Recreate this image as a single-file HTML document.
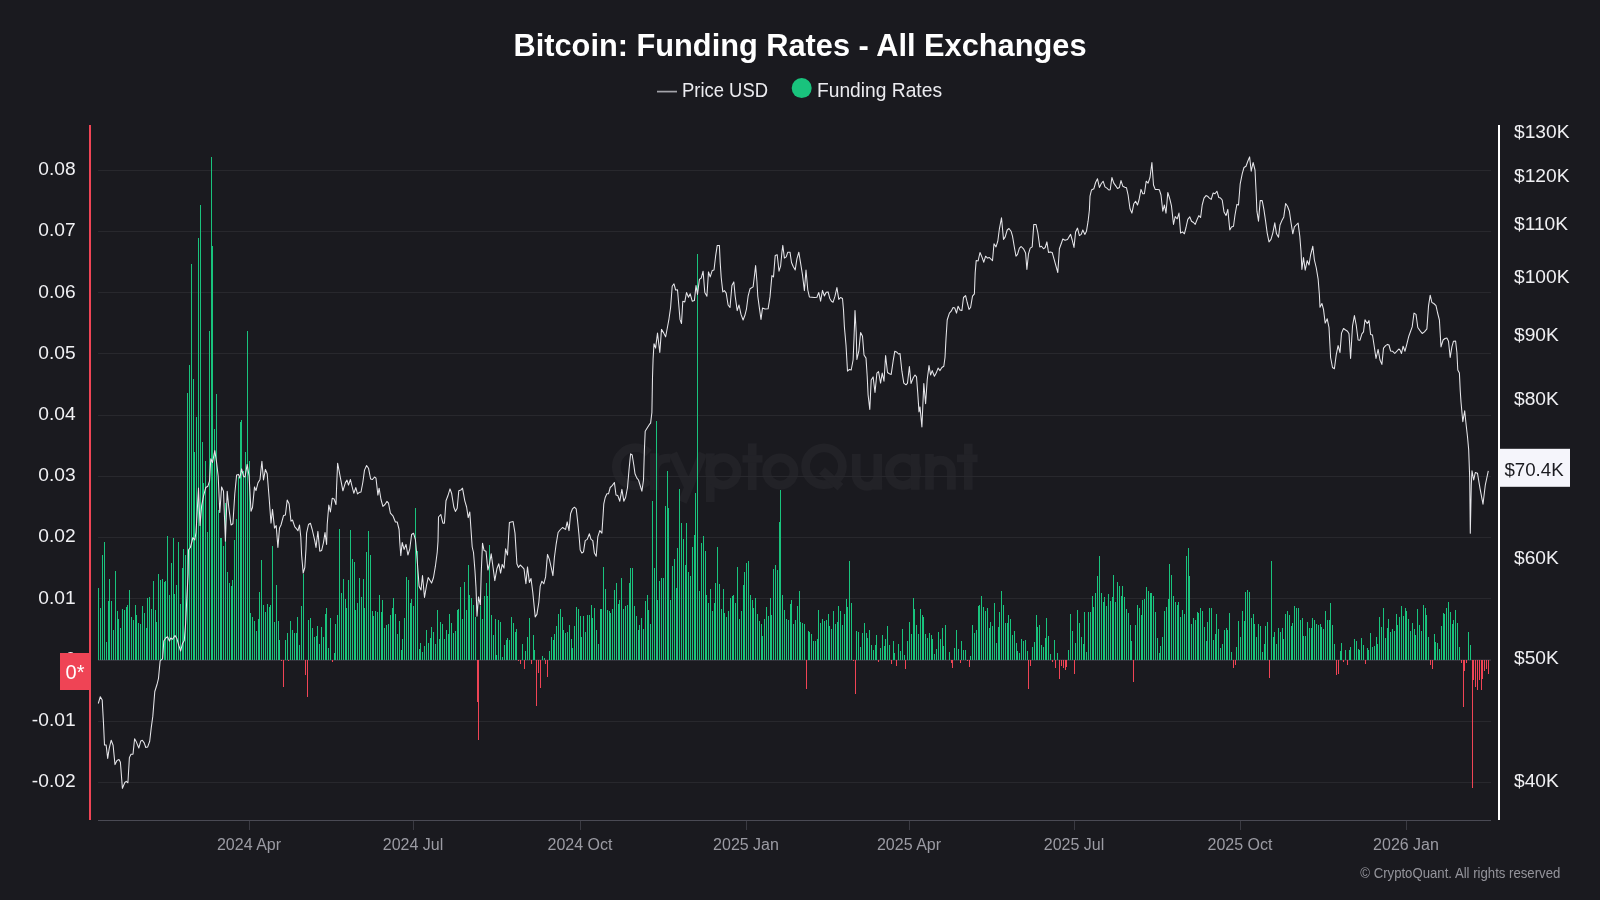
<!DOCTYPE html>
<html><head><meta charset="utf-8"><title>Bitcoin: Funding Rates - All Exchanges</title>
<style>
html,body{margin:0;padding:0;background:#1a1a1f;}
body{width:1600px;height:900px;overflow:hidden;font-family:"Liberation Sans",sans-serif;}
svg{display:block;will-change:transform}
text{font-family:"Liberation Sans",sans-serif;}
.yl{font-size:19.2px;fill:#f0f0f3;text-anchor:end}
.yr{font-size:19.2px;fill:#f0f0f3;text-anchor:start}
.xl{font-size:16px;fill:#9b9ba3;text-anchor:middle}
.g{stroke:#28282d;stroke-width:1}
</style></head><body>
<svg width="1600" height="900" viewBox="0 0 1600 900">
<rect width="1600" height="900" fill="#1a1a1f"/>
<text x="800" y="56" text-anchor="middle" font-size="31" font-weight="bold" fill="#ffffff" textLength="573" lengthAdjust="spacingAndGlyphs">Bitcoin: Funding Rates - All Exchanges</text>
<line x1="657" y1="91.6" x2="677" y2="91.6" stroke="#a4a4aa" stroke-width="1.7"/>
<text x="682" y="97" font-size="20.5" fill="#ececf0" textLength="86" lengthAdjust="spacingAndGlyphs">Price USD</text>
<circle cx="801.7" cy="88.1" r="10" fill="#19c37d"/>
<text x="817" y="97" font-size="20.5" fill="#ececf0" textLength="125" lengthAdjust="spacingAndGlyphs">Funding Rates</text>
<g id="wm" fill="none" stroke="#222227" stroke-width="8.8">
<path d="M648.8,453.2 A19.05 19.05 0 1 0 648.8,480.2"/>
<path d="M654.4,453.3 V490 M654.4,473 C654.4,462 660,457.6 670.5,458.2"/>
<path d="M673,453.3 L689.5,489.5 M703,453.3 L682.5,502"/>
<path d="M710.3,453.3 V502"/><circle cx="723.3" cy="471.4" r="13.7"/>
<path d="M752.2,443.3 V490"/><path d="M742.5,458.9 H762.5" stroke-width="7.6"/>
<circle cx="780.3" cy="471.5" r="13.7"/>
<circle cx="824" cy="466.3" r="18.4"/><path d="M822,470.5 L840.5,487.2"/>
<path d="M856.3,454 V475.5 A10.75 10.75 0 0 0 877.8,475.5 M877.8,454 V489.8"/>
<circle cx="903" cy="471.6" r="13.7"/><path d="M915.2,454 V489.8"/>
<path d="M929.5,454 V489.8 M929.5,471 A10.95 10.95 0 0 1 951.4,471 V489.8"/>
<path d="M968.3,443.6 V489.8"/><path d="M956.8,458.4 H977.7" stroke-width="7.9"/>
</g>
<line class="g" x1="98" x2="1491" y1="782.5" y2="782.5"/>
<line class="g" x1="98" x2="1491" y1="721.5" y2="721.5"/>
<line class="g" x1="98" x2="1491" y1="598.5" y2="598.5"/>
<line class="g" x1="98" x2="1491" y1="537.5" y2="537.5"/>
<line class="g" x1="98" x2="1491" y1="476.5" y2="476.5"/>
<line class="g" x1="98" x2="1491" y1="415.5" y2="415.5"/>
<line class="g" x1="98" x2="1491" y1="353.5" y2="353.5"/>
<line class="g" x1="98" x2="1491" y1="292.5" y2="292.5"/>
<line class="g" x1="98" x2="1491" y1="231.5" y2="231.5"/>
<line class="g" x1="98" x2="1491" y1="170.5" y2="170.5"/>
<rect x="98" y="659.4" width="1393" height="1.5" fill="#36343c"/>
<g id="bars" shape-rendering="crispEdges">
<rect x="98" y="588.2" width="1" height="71.6" fill="#19c37d"/><rect x="100" y="608.1" width="1" height="51.7" fill="#19c37d"/><rect x="102" y="555.0" width="1" height="104.8" fill="#19c37d"/><rect x="104" y="542.1" width="1" height="117.7" fill="#19c37d"/><rect x="106" y="642.1" width="1" height="17.7" fill="#19c37d"/><rect x="108" y="601.3" width="1" height="58.5" fill="#19c37d"/><rect x="109" y="579.1" width="1" height="80.7" fill="#19c37d"/><rect x="111" y="601.3" width="1" height="58.5" fill="#19c37d"/><rect x="113" y="630.1" width="1" height="29.7" fill="#19c37d"/><rect x="115" y="571.2" width="1" height="88.6" fill="#19c37d"/><rect x="117" y="611.0" width="1" height="48.8" fill="#19c37d"/><rect x="118" y="619.3" width="1" height="40.5" fill="#19c37d"/><rect x="120" y="628.0" width="1" height="31.8" fill="#19c37d"/><rect x="122" y="609.1" width="1" height="50.7" fill="#19c37d"/><rect x="124" y="610.0" width="1" height="49.8" fill="#19c37d"/><rect x="126" y="607.2" width="1" height="52.6" fill="#19c37d"/><rect x="127" y="605.2" width="1" height="54.6" fill="#19c37d"/><rect x="129" y="590.1" width="1" height="69.7" fill="#19c37d"/><rect x="131" y="617.1" width="1" height="42.7" fill="#19c37d"/><rect x="133" y="620.1" width="1" height="39.7" fill="#19c37d"/><rect x="135" y="605.2" width="1" height="54.6" fill="#19c37d"/><rect x="136" y="615.0" width="1" height="44.8" fill="#19c37d"/><rect x="138" y="623.0" width="1" height="36.8" fill="#19c37d"/><rect x="140" y="624.0" width="1" height="35.8" fill="#19c37d"/><rect x="142" y="606.0" width="1" height="53.8" fill="#19c37d"/><rect x="144" y="613.1" width="1" height="46.7" fill="#19c37d"/><rect x="146" y="628.0" width="1" height="31.8" fill="#19c37d"/><rect x="147" y="598.2" width="1" height="61.6" fill="#19c37d"/><rect x="149" y="597.2" width="1" height="62.6" fill="#19c37d"/><rect x="151" y="609.1" width="1" height="50.7" fill="#19c37d"/><rect x="153" y="581.1" width="1" height="78.7" fill="#19c37d"/><rect x="155" y="610.0" width="1" height="49.8" fill="#19c37d"/><rect x="156" y="622.0" width="1" height="37.8" fill="#19c37d"/><rect x="158" y="574.1" width="1" height="85.7" fill="#19c37d"/><rect x="160" y="580.1" width="1" height="79.7" fill="#19c37d"/><rect x="162" y="579.1" width="1" height="80.7" fill="#19c37d"/><rect x="164" y="582.1" width="1" height="77.7" fill="#19c37d"/><rect x="165" y="581.1" width="1" height="78.7" fill="#19c37d"/><rect x="167" y="536.0" width="1" height="123.8" fill="#19c37d"/><rect x="169" y="595.0" width="1" height="64.8" fill="#19c37d"/><rect x="171" y="563.1" width="1" height="96.7" fill="#19c37d"/><rect x="173" y="538.1" width="1" height="121.7" fill="#19c37d"/><rect x="174" y="594.0" width="1" height="65.8" fill="#19c37d"/><rect x="176" y="585.1" width="1" height="74.7" fill="#19c37d"/><rect x="178" y="542.1" width="1" height="117.7" fill="#19c37d"/><rect x="180" y="604.0" width="1" height="55.8" fill="#19c37d"/><rect x="182" y="568.0" width="1" height="91.8" fill="#19c37d"/><rect x="183" y="549.0" width="1" height="110.8" fill="#19c37d"/><rect x="185" y="555.0" width="1" height="104.8" fill="#19c37d"/><rect x="187" y="393.0" width="1" height="266.8" fill="#19c37d"/><rect x="189" y="365.1" width="1" height="294.7" fill="#19c37d"/><rect x="191" y="264.1" width="1" height="395.7" fill="#19c37d"/><rect x="193" y="379.0" width="1" height="280.8" fill="#19c37d"/><rect x="194" y="452.0" width="1" height="207.8" fill="#19c37d"/><rect x="196" y="417.0" width="1" height="242.8" fill="#19c37d"/><rect x="198" y="238.2" width="1" height="421.6" fill="#19c37d"/><rect x="200" y="205.0" width="1" height="454.8" fill="#19c37d"/><rect x="202" y="442.0" width="1" height="217.8" fill="#19c37d"/><rect x="203" y="483.0" width="1" height="176.8" fill="#19c37d"/><rect x="205" y="461.0" width="1" height="198.8" fill="#19c37d"/><rect x="207" y="532.0" width="1" height="127.8" fill="#19c37d"/><rect x="209" y="331.1" width="1" height="328.7" fill="#19c37d"/><rect x="211" y="156.9" width="1" height="502.9" fill="#19c37d"/><rect x="212" y="246.2" width="1" height="413.6" fill="#19c37d"/><rect x="214" y="429.0" width="1" height="230.8" fill="#19c37d"/><rect x="216" y="394.0" width="1" height="265.8" fill="#19c37d"/><rect x="218" y="510.0" width="1" height="149.8" fill="#19c37d"/><rect x="220" y="538.0" width="1" height="121.8" fill="#19c37d"/><rect x="221" y="538.0" width="1" height="121.8" fill="#19c37d"/><rect x="223" y="546.0" width="1" height="113.8" fill="#19c37d"/><rect x="225" y="503.0" width="1" height="156.8" fill="#19c37d"/><rect x="227" y="572.0" width="1" height="87.8" fill="#19c37d"/><rect x="229" y="583.0" width="1" height="76.8" fill="#19c37d"/><rect x="231" y="586.0" width="1" height="73.8" fill="#19c37d"/><rect x="232" y="580.0" width="1" height="79.8" fill="#19c37d"/><rect x="234" y="539.5" width="1" height="120.3" fill="#19c37d"/><rect x="236" y="518.8" width="1" height="141.0" fill="#19c37d"/><rect x="238" y="477.0" width="1" height="182.8" fill="#19c37d"/><rect x="240" y="422.0" width="1" height="237.8" fill="#19c37d"/><rect x="241" y="420.1" width="1" height="239.7" fill="#19c37d"/><rect x="243" y="471.0" width="1" height="188.8" fill="#19c37d"/><rect x="245" y="452.0" width="1" height="207.8" fill="#19c37d"/><rect x="247" y="331.1" width="1" height="328.7" fill="#19c37d"/><rect x="249" y="461.0" width="1" height="198.8" fill="#19c37d"/><rect x="250" y="613.4" width="1" height="46.4" fill="#19c37d"/><rect x="252" y="617.1" width="1" height="42.7" fill="#19c37d"/><rect x="254" y="621.2" width="1" height="38.6" fill="#19c37d"/><rect x="256" y="631.1" width="1" height="28.7" fill="#19c37d"/><rect x="258" y="619.0" width="1" height="40.8" fill="#19c37d"/><rect x="259" y="592.1" width="1" height="67.7" fill="#19c37d"/><rect x="261" y="560.2" width="1" height="99.6" fill="#19c37d"/><rect x="263" y="605.2" width="1" height="54.6" fill="#19c37d"/><rect x="265" y="612.1" width="1" height="47.7" fill="#19c37d"/><rect x="267" y="604.0" width="1" height="55.8" fill="#19c37d"/><rect x="269" y="606.5" width="1" height="53.3" fill="#19c37d"/><rect x="270" y="605.2" width="1" height="54.6" fill="#19c37d"/><rect x="272" y="546.0" width="1" height="113.8" fill="#19c37d"/><rect x="274" y="622.1" width="1" height="37.7" fill="#19c37d"/><rect x="276" y="585.2" width="1" height="74.6" fill="#19c37d"/><rect x="278" y="621.2" width="1" height="38.6" fill="#19c37d"/><rect x="279" y="640.2" width="1" height="19.6" fill="#19c37d"/><rect x="281" y="659.8" width="1" height="1.6" fill="#ef4455"/><rect x="283" y="659.8" width="1" height="26.9" fill="#ef4455"/><rect x="285" y="640.2" width="1" height="19.6" fill="#19c37d"/><rect x="287" y="633.0" width="1" height="26.8" fill="#19c37d"/><rect x="288" y="659.8" width="1" height="1.2" fill="#ef4455"/><rect x="290" y="621.2" width="1" height="38.6" fill="#19c37d"/><rect x="292" y="630.2" width="1" height="29.6" fill="#19c37d"/><rect x="294" y="633.0" width="1" height="26.8" fill="#19c37d"/><rect x="296" y="632.8" width="1" height="27.0" fill="#19c37d"/><rect x="297" y="617.1" width="1" height="42.7" fill="#19c37d"/><rect x="299" y="645.0" width="1" height="14.8" fill="#19c37d"/><rect x="301" y="606.2" width="1" height="53.6" fill="#19c37d"/><rect x="303" y="574.0" width="1" height="85.8" fill="#19c37d"/><rect x="305" y="659.8" width="1" height="15.1" fill="#ef4455"/><rect x="307" y="659.8" width="1" height="36.8" fill="#ef4455"/><rect x="308" y="620.2" width="1" height="39.6" fill="#19c37d"/><rect x="310" y="618.1" width="1" height="41.7" fill="#19c37d"/><rect x="312" y="628.1" width="1" height="31.7" fill="#19c37d"/><rect x="314" y="637.1" width="1" height="22.7" fill="#19c37d"/><rect x="316" y="635.9" width="1" height="23.9" fill="#19c37d"/><rect x="317" y="626.1" width="1" height="33.7" fill="#19c37d"/><rect x="319" y="644.0" width="1" height="15.8" fill="#19c37d"/><rect x="321" y="627.1" width="1" height="32.7" fill="#19c37d"/><rect x="323" y="637.1" width="1" height="22.7" fill="#19c37d"/><rect x="325" y="614.0" width="1" height="45.8" fill="#19c37d"/><rect x="326" y="608.1" width="1" height="51.7" fill="#19c37d"/><rect x="328" y="648.1" width="1" height="11.7" fill="#19c37d"/><rect x="330" y="618.1" width="1" height="41.7" fill="#19c37d"/><rect x="332" y="659.8" width="1" height="2.0" fill="#ef4455"/><rect x="334" y="652.8" width="1" height="7.0" fill="#19c37d"/><rect x="335" y="624.0" width="1" height="35.8" fill="#19c37d"/><rect x="337" y="615.2" width="1" height="44.6" fill="#19c37d"/><rect x="339" y="529.1" width="1" height="130.7" fill="#19c37d"/><rect x="341" y="593.0" width="1" height="66.8" fill="#19c37d"/><rect x="343" y="579.0" width="1" height="80.8" fill="#19c37d"/><rect x="345" y="599.0" width="1" height="60.8" fill="#19c37d"/><rect x="346" y="608.1" width="1" height="51.7" fill="#19c37d"/><rect x="348" y="580.0" width="1" height="79.8" fill="#19c37d"/><rect x="350" y="530.1" width="1" height="129.7" fill="#19c37d"/><rect x="352" y="559.0" width="1" height="100.8" fill="#19c37d"/><rect x="354" y="562.1" width="1" height="97.7" fill="#19c37d"/><rect x="355" y="610.0" width="1" height="49.8" fill="#19c37d"/><rect x="357" y="603.0" width="1" height="56.8" fill="#19c37d"/><rect x="359" y="578.1" width="1" height="81.7" fill="#19c37d"/><rect x="361" y="597.1" width="1" height="62.7" fill="#19c37d"/><rect x="363" y="579.0" width="1" height="80.8" fill="#19c37d"/><rect x="364" y="608.1" width="1" height="51.7" fill="#19c37d"/><rect x="366" y="552.1" width="1" height="107.7" fill="#19c37d"/><rect x="368" y="531.0" width="1" height="128.8" fill="#19c37d"/><rect x="370" y="555.0" width="1" height="104.8" fill="#19c37d"/><rect x="372" y="611.1" width="1" height="48.7" fill="#19c37d"/><rect x="373" y="616.1" width="1" height="43.7" fill="#19c37d"/><rect x="375" y="611.1" width="1" height="48.7" fill="#19c37d"/><rect x="377" y="612.1" width="1" height="47.7" fill="#19c37d"/><rect x="379" y="595.2" width="1" height="64.6" fill="#19c37d"/><rect x="381" y="612.1" width="1" height="47.7" fill="#19c37d"/><rect x="382" y="600.0" width="1" height="59.8" fill="#19c37d"/><rect x="384" y="628.1" width="1" height="31.7" fill="#19c37d"/><rect x="386" y="625.2" width="1" height="34.6" fill="#19c37d"/><rect x="388" y="624.0" width="1" height="35.8" fill="#19c37d"/><rect x="390" y="615.0" width="1" height="44.8" fill="#19c37d"/><rect x="392" y="608.1" width="1" height="51.7" fill="#19c37d"/><rect x="393" y="598.1" width="1" height="61.7" fill="#19c37d"/><rect x="395" y="614.0" width="1" height="45.8" fill="#19c37d"/><rect x="397" y="634.0" width="1" height="25.8" fill="#19c37d"/><rect x="399" y="620.9" width="1" height="38.9" fill="#19c37d"/><rect x="401" y="649.6" width="1" height="10.2" fill="#19c37d"/><rect x="402" y="639.0" width="1" height="20.8" fill="#19c37d"/><rect x="404" y="618.1" width="1" height="41.7" fill="#19c37d"/><rect x="406" y="577.1" width="1" height="82.7" fill="#19c37d"/><rect x="408" y="580.0" width="1" height="79.8" fill="#19c37d"/><rect x="410" y="603.0" width="1" height="56.8" fill="#19c37d"/><rect x="411" y="599.0" width="1" height="60.8" fill="#19c37d"/><rect x="413" y="605.9" width="1" height="53.9" fill="#19c37d"/><rect x="415" y="508.0" width="1" height="151.8" fill="#19c37d"/><rect x="417" y="551.2" width="1" height="108.6" fill="#19c37d"/><rect x="419" y="649.0" width="1" height="10.8" fill="#19c37d"/><rect x="420" y="643.0" width="1" height="16.8" fill="#19c37d"/><rect x="422" y="651.9" width="1" height="7.9" fill="#19c37d"/><rect x="424" y="646.1" width="1" height="13.7" fill="#19c37d"/><rect x="426" y="630.0" width="1" height="29.8" fill="#19c37d"/><rect x="428" y="643.0" width="1" height="16.8" fill="#19c37d"/><rect x="430" y="638.0" width="1" height="21.8" fill="#19c37d"/><rect x="431" y="627.1" width="1" height="32.7" fill="#19c37d"/><rect x="433" y="632.1" width="1" height="27.7" fill="#19c37d"/><rect x="435" y="644.0" width="1" height="15.8" fill="#19c37d"/><rect x="437" y="610.0" width="1" height="49.8" fill="#19c37d"/><rect x="439" y="639.0" width="1" height="20.8" fill="#19c37d"/><rect x="440" y="622.1" width="1" height="37.7" fill="#19c37d"/><rect x="442" y="624.0" width="1" height="35.8" fill="#19c37d"/><rect x="444" y="639.0" width="1" height="20.8" fill="#19c37d"/><rect x="446" y="630.2" width="1" height="29.6" fill="#19c37d"/><rect x="448" y="634.0" width="1" height="25.8" fill="#19c37d"/><rect x="449" y="614.0" width="1" height="45.8" fill="#19c37d"/><rect x="451" y="623.1" width="1" height="36.7" fill="#19c37d"/><rect x="453" y="633.0" width="1" height="26.8" fill="#19c37d"/><rect x="455" y="631.1" width="1" height="28.7" fill="#19c37d"/><rect x="457" y="610.0" width="1" height="49.8" fill="#19c37d"/><rect x="458" y="609.0" width="1" height="50.8" fill="#19c37d"/><rect x="460" y="587.1" width="1" height="72.7" fill="#19c37d"/><rect x="462" y="619.0" width="1" height="40.8" fill="#19c37d"/><rect x="464" y="582.1" width="1" height="77.7" fill="#19c37d"/><rect x="466" y="610.0" width="1" height="49.8" fill="#19c37d"/><rect x="468" y="565.0" width="1" height="94.8" fill="#19c37d"/><rect x="469" y="595.0" width="1" height="64.8" fill="#19c37d"/><rect x="471" y="598.0" width="1" height="61.8" fill="#19c37d"/><rect x="473" y="605.0" width="1" height="54.8" fill="#19c37d"/><rect x="475" y="617.1" width="1" height="42.7" fill="#19c37d"/><rect x="477" y="659.8" width="1" height="41.9" fill="#ef4455"/><rect x="478" y="659.8" width="1" height="79.8" fill="#ef4455"/><rect x="480" y="605.9" width="1" height="53.9" fill="#19c37d"/><rect x="482" y="619.0" width="1" height="40.8" fill="#19c37d"/><rect x="484" y="595.9" width="1" height="63.9" fill="#19c37d"/><rect x="486" y="583.0" width="1" height="76.8" fill="#19c37d"/><rect x="487" y="595.9" width="1" height="63.9" fill="#19c37d"/><rect x="489" y="545.1" width="1" height="114.7" fill="#19c37d"/><rect x="491" y="615.0" width="1" height="44.8" fill="#19c37d"/><rect x="493" y="635.0" width="1" height="24.8" fill="#19c37d"/><rect x="495" y="619.0" width="1" height="40.8" fill="#19c37d"/><rect x="496" y="655.2" width="1" height="4.6" fill="#19c37d"/><rect x="498" y="620.0" width="1" height="39.8" fill="#19c37d"/><rect x="500" y="622.1" width="1" height="37.7" fill="#19c37d"/><rect x="502" y="657.1" width="1" height="2.7" fill="#19c37d"/><rect x="504" y="645.0" width="1" height="14.8" fill="#19c37d"/><rect x="506" y="640.2" width="1" height="19.6" fill="#19c37d"/><rect x="507" y="638.0" width="1" height="21.8" fill="#19c37d"/><rect x="509" y="640.0" width="1" height="19.8" fill="#19c37d"/><rect x="511" y="617.1" width="1" height="42.7" fill="#19c37d"/><rect x="513" y="623.1" width="1" height="36.7" fill="#19c37d"/><rect x="515" y="632.1" width="1" height="27.7" fill="#19c37d"/><rect x="516" y="629.0" width="1" height="30.8" fill="#19c37d"/><rect x="518" y="659.8" width="1" height="1.0" fill="#ef4455"/><rect x="520" y="659.8" width="1" height="4.0" fill="#ef4455"/><rect x="522" y="644.0" width="1" height="15.8" fill="#19c37d"/><rect x="524" y="659.8" width="1" height="9.1" fill="#ef4455"/><rect x="525" y="651.1" width="1" height="8.7" fill="#19c37d"/><rect x="527" y="637.1" width="1" height="22.7" fill="#19c37d"/><rect x="529" y="618.1" width="1" height="41.7" fill="#19c37d"/><rect x="531" y="659.8" width="1" height="4.0" fill="#ef4455"/><rect x="533" y="635.0" width="1" height="24.8" fill="#19c37d"/><rect x="534" y="650.0" width="1" height="9.8" fill="#19c37d"/><rect x="536" y="659.8" width="1" height="46.0" fill="#ef4455"/><rect x="538" y="659.8" width="1" height="12.8" fill="#ef4455"/><rect x="540" y="659.8" width="1" height="27.8" fill="#ef4455"/><rect x="542" y="656.1" width="1" height="3.7" fill="#19c37d"/><rect x="544" y="658.4" width="1" height="1.4" fill="#19c37d"/><rect x="545" y="659.8" width="1" height="4.0" fill="#ef4455"/><rect x="547" y="659.8" width="1" height="17.0" fill="#ef4455"/><rect x="549" y="651.1" width="1" height="8.7" fill="#19c37d"/><rect x="551" y="637.1" width="1" height="22.7" fill="#19c37d"/><rect x="553" y="640.0" width="1" height="19.8" fill="#19c37d"/><rect x="554" y="634.0" width="1" height="25.8" fill="#19c37d"/><rect x="556" y="626.1" width="1" height="33.7" fill="#19c37d"/><rect x="558" y="614.0" width="1" height="45.8" fill="#19c37d"/><rect x="560" y="609.0" width="1" height="50.8" fill="#19c37d"/><rect x="562" y="617.1" width="1" height="42.7" fill="#19c37d"/><rect x="563" y="630.2" width="1" height="29.6" fill="#19c37d"/><rect x="565" y="633.0" width="1" height="26.8" fill="#19c37d"/><rect x="567" y="632.1" width="1" height="27.7" fill="#19c37d"/><rect x="569" y="625.0" width="1" height="34.8" fill="#19c37d"/><rect x="571" y="639.0" width="1" height="20.8" fill="#19c37d"/><rect x="572" y="648.1" width="1" height="11.7" fill="#19c37d"/><rect x="574" y="626.1" width="1" height="33.7" fill="#19c37d"/><rect x="576" y="607.1" width="1" height="52.7" fill="#19c37d"/><rect x="578" y="609.0" width="1" height="50.8" fill="#19c37d"/><rect x="580" y="616.1" width="1" height="43.7" fill="#19c37d"/><rect x="581" y="637.1" width="1" height="22.7" fill="#19c37d"/><rect x="583" y="616.1" width="1" height="43.7" fill="#19c37d"/><rect x="585" y="632.1" width="1" height="27.7" fill="#19c37d"/><rect x="587" y="615.0" width="1" height="44.8" fill="#19c37d"/><rect x="589" y="615.0" width="1" height="44.8" fill="#19c37d"/><rect x="591" y="605.0" width="1" height="54.8" fill="#19c37d"/><rect x="592" y="618.1" width="1" height="41.7" fill="#19c37d"/><rect x="594" y="608.1" width="1" height="51.7" fill="#19c37d"/><rect x="596" y="630.2" width="1" height="29.6" fill="#19c37d"/><rect x="598" y="644.0" width="1" height="15.8" fill="#19c37d"/><rect x="600" y="609.4" width="1" height="50.4" fill="#19c37d"/><rect x="601" y="609.4" width="1" height="50.4" fill="#19c37d"/><rect x="603" y="567.1" width="1" height="92.7" fill="#19c37d"/><rect x="605" y="589.2" width="1" height="70.6" fill="#19c37d"/><rect x="607" y="610.2" width="1" height="49.6" fill="#19c37d"/><rect x="609" y="611.1" width="1" height="48.7" fill="#19c37d"/><rect x="610" y="613.0" width="1" height="46.8" fill="#19c37d"/><rect x="612" y="609.4" width="1" height="50.4" fill="#19c37d"/><rect x="614" y="590.2" width="1" height="69.6" fill="#19c37d"/><rect x="616" y="583.0" width="1" height="76.8" fill="#19c37d"/><rect x="618" y="604.0" width="1" height="55.8" fill="#19c37d"/><rect x="619" y="600.0" width="1" height="59.8" fill="#19c37d"/><rect x="621" y="578.1" width="1" height="81.7" fill="#19c37d"/><rect x="623" y="609.4" width="1" height="50.4" fill="#19c37d"/><rect x="625" y="606.2" width="1" height="53.6" fill="#19c37d"/><rect x="627" y="605.2" width="1" height="54.6" fill="#19c37d"/><rect x="629" y="583.0" width="1" height="76.8" fill="#19c37d"/><rect x="630" y="568.1" width="1" height="91.7" fill="#19c37d"/><rect x="632" y="568.1" width="1" height="91.7" fill="#19c37d"/><rect x="634" y="606.2" width="1" height="53.6" fill="#19c37d"/><rect x="636" y="616.1" width="1" height="43.7" fill="#19c37d"/><rect x="638" y="630.0" width="1" height="29.8" fill="#19c37d"/><rect x="639" y="625.0" width="1" height="34.8" fill="#19c37d"/><rect x="641" y="618.1" width="1" height="41.7" fill="#19c37d"/><rect x="643" y="629.0" width="1" height="30.8" fill="#19c37d"/><rect x="645" y="601.1" width="1" height="58.7" fill="#19c37d"/><rect x="647" y="595.2" width="1" height="64.6" fill="#19c37d"/><rect x="648" y="610.0" width="1" height="49.8" fill="#19c37d"/><rect x="650" y="624.0" width="1" height="35.8" fill="#19c37d"/><rect x="652" y="501.0" width="1" height="158.8" fill="#19c37d"/><rect x="654" y="568.1" width="1" height="91.7" fill="#19c37d"/><rect x="656" y="421.1" width="1" height="238.7" fill="#19c37d"/><rect x="657" y="600.0" width="1" height="59.8" fill="#19c37d"/><rect x="659" y="581.2" width="1" height="78.6" fill="#19c37d"/><rect x="661" y="578.1" width="1" height="81.7" fill="#19c37d"/><rect x="663" y="578.1" width="1" height="81.7" fill="#19c37d"/><rect x="665" y="506.1" width="1" height="153.7" fill="#19c37d"/><rect x="667" y="471.0" width="1" height="188.8" fill="#19c37d"/><rect x="668" y="508.0" width="1" height="151.8" fill="#19c37d"/><rect x="670" y="600.0" width="1" height="59.8" fill="#19c37d"/><rect x="672" y="566.1" width="1" height="93.7" fill="#19c37d"/><rect x="674" y="559.2" width="1" height="100.6" fill="#19c37d"/><rect x="676" y="588.1" width="1" height="71.7" fill="#19c37d"/><rect x="677" y="547.6" width="1" height="112.2" fill="#19c37d"/><rect x="679" y="489.1" width="1" height="170.7" fill="#19c37d"/><rect x="681" y="523.0" width="1" height="136.8" fill="#19c37d"/><rect x="683" y="539.1" width="1" height="120.7" fill="#19c37d"/><rect x="685" y="565.2" width="1" height="94.6" fill="#19c37d"/><rect x="686" y="523.0" width="1" height="136.8" fill="#19c37d"/><rect x="688" y="572.1" width="1" height="87.7" fill="#19c37d"/><rect x="690" y="576.1" width="1" height="83.7" fill="#19c37d"/><rect x="692" y="547.0" width="1" height="112.8" fill="#19c37d"/><rect x="694" y="535.1" width="1" height="124.7" fill="#19c37d"/><rect x="695" y="493.0" width="1" height="166.8" fill="#19c37d"/><rect x="697" y="253.8" width="1" height="406.0" fill="#19c37d"/><rect x="699" y="591.1" width="1" height="68.7" fill="#19c37d"/><rect x="701" y="543.2" width="1" height="116.6" fill="#19c37d"/><rect x="703" y="536.1" width="1" height="123.7" fill="#19c37d"/><rect x="705" y="551.2" width="1" height="108.6" fill="#19c37d"/><rect x="706" y="595.2" width="1" height="64.6" fill="#19c37d"/><rect x="708" y="603.0" width="1" height="56.8" fill="#19c37d"/><rect x="710" y="589.2" width="1" height="70.6" fill="#19c37d"/><rect x="712" y="611.1" width="1" height="48.7" fill="#19c37d"/><rect x="714" y="603.0" width="1" height="56.8" fill="#19c37d"/><rect x="715" y="583.0" width="1" height="76.8" fill="#19c37d"/><rect x="717" y="547.0" width="1" height="112.8" fill="#19c37d"/><rect x="719" y="584.0" width="1" height="75.8" fill="#19c37d"/><rect x="721" y="609.4" width="1" height="50.4" fill="#19c37d"/><rect x="723" y="589.2" width="1" height="70.6" fill="#19c37d"/><rect x="724" y="613.0" width="1" height="46.8" fill="#19c37d"/><rect x="726" y="617.1" width="1" height="42.7" fill="#19c37d"/><rect x="728" y="611.1" width="1" height="48.7" fill="#19c37d"/><rect x="730" y="598.0" width="1" height="61.8" fill="#19c37d"/><rect x="732" y="596.2" width="1" height="63.6" fill="#19c37d"/><rect x="733" y="595.2" width="1" height="64.6" fill="#19c37d"/><rect x="735" y="603.0" width="1" height="56.8" fill="#19c37d"/><rect x="737" y="567.1" width="1" height="92.7" fill="#19c37d"/><rect x="739" y="619.0" width="1" height="40.8" fill="#19c37d"/><rect x="741" y="611.1" width="1" height="48.7" fill="#19c37d"/><rect x="743" y="585.0" width="1" height="74.8" fill="#19c37d"/><rect x="744" y="572.1" width="1" height="87.7" fill="#19c37d"/><rect x="746" y="563.1" width="1" height="96.7" fill="#19c37d"/><rect x="748" y="561.1" width="1" height="98.7" fill="#19c37d"/><rect x="750" y="595.2" width="1" height="64.6" fill="#19c37d"/><rect x="752" y="600.0" width="1" height="59.8" fill="#19c37d"/><rect x="753" y="608.1" width="1" height="51.7" fill="#19c37d"/><rect x="755" y="598.0" width="1" height="61.8" fill="#19c37d"/><rect x="757" y="614.0" width="1" height="45.8" fill="#19c37d"/><rect x="759" y="621.2" width="1" height="38.6" fill="#19c37d"/><rect x="761" y="624.0" width="1" height="35.8" fill="#19c37d"/><rect x="762" y="636.1" width="1" height="23.7" fill="#19c37d"/><rect x="764" y="619.0" width="1" height="40.8" fill="#19c37d"/><rect x="766" y="607.1" width="1" height="52.7" fill="#19c37d"/><rect x="768" y="616.1" width="1" height="43.7" fill="#19c37d"/><rect x="770" y="598.0" width="1" height="61.8" fill="#19c37d"/><rect x="771" y="615.0" width="1" height="44.8" fill="#19c37d"/><rect x="773" y="569.0" width="1" height="90.8" fill="#19c37d"/><rect x="775" y="565.2" width="1" height="94.6" fill="#19c37d"/><rect x="777" y="570.2" width="1" height="89.6" fill="#19c37d"/><rect x="779" y="522.0" width="1" height="137.8" fill="#19c37d"/><rect x="780" y="490.1" width="1" height="169.7" fill="#19c37d"/><rect x="782" y="595.2" width="1" height="64.6" fill="#19c37d"/><rect x="784" y="610.2" width="1" height="49.6" fill="#19c37d"/><rect x="786" y="619.0" width="1" height="40.8" fill="#19c37d"/><rect x="788" y="620.2" width="1" height="39.6" fill="#19c37d"/><rect x="790" y="604.0" width="1" height="55.8" fill="#19c37d"/><rect x="791" y="600.0" width="1" height="59.8" fill="#19c37d"/><rect x="793" y="624.0" width="1" height="35.8" fill="#19c37d"/><rect x="795" y="620.2" width="1" height="39.6" fill="#19c37d"/><rect x="797" y="606.2" width="1" height="53.6" fill="#19c37d"/><rect x="799" y="591.1" width="1" height="68.7" fill="#19c37d"/><rect x="800" y="622.1" width="1" height="37.7" fill="#19c37d"/><rect x="802" y="623.1" width="1" height="36.7" fill="#19c37d"/><rect x="804" y="624.0" width="1" height="35.8" fill="#19c37d"/><rect x="806" y="659.8" width="1" height="29.1" fill="#ef4455"/><rect x="808" y="631.1" width="1" height="28.7" fill="#19c37d"/><rect x="809" y="632.1" width="1" height="27.7" fill="#19c37d"/><rect x="811" y="634.0" width="1" height="25.8" fill="#19c37d"/><rect x="813" y="641.1" width="1" height="18.7" fill="#19c37d"/><rect x="815" y="641.1" width="1" height="18.7" fill="#19c37d"/><rect x="817" y="639.0" width="1" height="20.8" fill="#19c37d"/><rect x="818" y="610.0" width="1" height="49.8" fill="#19c37d"/><rect x="820" y="623.1" width="1" height="36.7" fill="#19c37d"/><rect x="822" y="619.0" width="1" height="40.8" fill="#19c37d"/><rect x="824" y="621.2" width="1" height="38.6" fill="#19c37d"/><rect x="826" y="620.0" width="1" height="39.8" fill="#19c37d"/><rect x="828" y="614.0" width="1" height="45.8" fill="#19c37d"/><rect x="829" y="626.1" width="1" height="33.7" fill="#19c37d"/><rect x="831" y="629.0" width="1" height="30.8" fill="#19c37d"/><rect x="833" y="611.1" width="1" height="48.7" fill="#19c37d"/><rect x="835" y="624.0" width="1" height="35.8" fill="#19c37d"/><rect x="837" y="622.1" width="1" height="37.7" fill="#19c37d"/><rect x="838" y="606.2" width="1" height="53.6" fill="#19c37d"/><rect x="840" y="611.1" width="1" height="48.7" fill="#19c37d"/><rect x="842" y="625.0" width="1" height="34.8" fill="#19c37d"/><rect x="844" y="614.0" width="1" height="45.8" fill="#19c37d"/><rect x="846" y="599.0" width="1" height="60.8" fill="#19c37d"/><rect x="847" y="607.1" width="1" height="52.7" fill="#19c37d"/><rect x="849" y="561.1" width="1" height="98.7" fill="#19c37d"/><rect x="851" y="603.0" width="1" height="56.8" fill="#19c37d"/><rect x="853" y="659.8" width="1" height="1.2" fill="#ef4455"/><rect x="855" y="659.8" width="1" height="33.8" fill="#ef4455"/><rect x="856" y="631.1" width="1" height="28.7" fill="#19c37d"/><rect x="858" y="632.1" width="1" height="27.7" fill="#19c37d"/><rect x="860" y="647.1" width="1" height="12.7" fill="#19c37d"/><rect x="862" y="633.0" width="1" height="26.8" fill="#19c37d"/><rect x="864" y="623.1" width="1" height="36.7" fill="#19c37d"/><rect x="866" y="633.0" width="1" height="26.8" fill="#19c37d"/><rect x="867" y="638.0" width="1" height="21.8" fill="#19c37d"/><rect x="869" y="630.2" width="1" height="29.6" fill="#19c37d"/><rect x="871" y="645.0" width="1" height="14.8" fill="#19c37d"/><rect x="873" y="650.0" width="1" height="9.8" fill="#19c37d"/><rect x="875" y="645.0" width="1" height="14.8" fill="#19c37d"/><rect x="876" y="635.0" width="1" height="24.8" fill="#19c37d"/><rect x="878" y="659.8" width="1" height="2.0" fill="#ef4455"/><rect x="880" y="648.1" width="1" height="11.7" fill="#19c37d"/><rect x="882" y="635.0" width="1" height="24.8" fill="#19c37d"/><rect x="884" y="645.9" width="1" height="13.9" fill="#19c37d"/><rect x="885" y="639.0" width="1" height="20.8" fill="#19c37d"/><rect x="887" y="626.1" width="1" height="33.7" fill="#19c37d"/><rect x="889" y="645.0" width="1" height="14.8" fill="#19c37d"/><rect x="891" y="659.8" width="1" height="4.0" fill="#ef4455"/><rect x="893" y="641.1" width="1" height="18.7" fill="#19c37d"/><rect x="894" y="653.1" width="1" height="6.7" fill="#19c37d"/><rect x="896" y="659.8" width="1" height="5.9" fill="#ef4455"/><rect x="898" y="644.0" width="1" height="15.8" fill="#19c37d"/><rect x="900" y="651.1" width="1" height="8.7" fill="#19c37d"/><rect x="902" y="629.0" width="1" height="30.8" fill="#19c37d"/><rect x="904" y="655.2" width="1" height="4.6" fill="#19c37d"/><rect x="905" y="659.8" width="1" height="9.1" fill="#ef4455"/><rect x="907" y="641.1" width="1" height="18.7" fill="#19c37d"/><rect x="909" y="622.1" width="1" height="37.7" fill="#19c37d"/><rect x="911" y="634.0" width="1" height="25.8" fill="#19c37d"/><rect x="913" y="598.0" width="1" height="61.8" fill="#19c37d"/><rect x="914" y="609.4" width="1" height="50.4" fill="#19c37d"/><rect x="916" y="625.0" width="1" height="34.8" fill="#19c37d"/><rect x="918" y="634.0" width="1" height="25.8" fill="#19c37d"/><rect x="920" y="609.0" width="1" height="50.8" fill="#19c37d"/><rect x="922" y="615.0" width="1" height="44.8" fill="#19c37d"/><rect x="923" y="617.1" width="1" height="42.7" fill="#19c37d"/><rect x="925" y="634.0" width="1" height="25.8" fill="#19c37d"/><rect x="927" y="638.0" width="1" height="21.8" fill="#19c37d"/><rect x="929" y="633.0" width="1" height="26.8" fill="#19c37d"/><rect x="931" y="635.0" width="1" height="24.8" fill="#19c37d"/><rect x="932" y="639.0" width="1" height="20.8" fill="#19c37d"/><rect x="934" y="654.0" width="1" height="5.8" fill="#19c37d"/><rect x="936" y="649.0" width="1" height="10.8" fill="#19c37d"/><rect x="938" y="632.1" width="1" height="27.7" fill="#19c37d"/><rect x="940" y="639.0" width="1" height="20.8" fill="#19c37d"/><rect x="942" y="628.1" width="1" height="31.7" fill="#19c37d"/><rect x="943" y="646.1" width="1" height="13.7" fill="#19c37d"/><rect x="945" y="625.0" width="1" height="34.8" fill="#19c37d"/><rect x="949" y="652.1" width="1" height="7.7" fill="#19c37d"/><rect x="951" y="659.8" width="1" height="2.9" fill="#ef4455"/><rect x="952" y="659.8" width="1" height="8.0" fill="#ef4455"/><rect x="954" y="648.1" width="1" height="11.7" fill="#19c37d"/><rect x="956" y="630.2" width="1" height="29.6" fill="#19c37d"/><rect x="958" y="649.0" width="1" height="10.8" fill="#19c37d"/><rect x="960" y="659.8" width="1" height="2.9" fill="#ef4455"/><rect x="961" y="641.1" width="1" height="18.7" fill="#19c37d"/><rect x="963" y="650.0" width="1" height="9.8" fill="#19c37d"/><rect x="965" y="650.0" width="1" height="9.8" fill="#19c37d"/><rect x="967" y="659.8" width="1" height="1.6" fill="#ef4455"/><rect x="969" y="659.8" width="1" height="7.0" fill="#ef4455"/><rect x="970" y="656.1" width="1" height="3.7" fill="#19c37d"/><rect x="972" y="625.0" width="1" height="34.8" fill="#19c37d"/><rect x="974" y="633.0" width="1" height="26.8" fill="#19c37d"/><rect x="976" y="630.2" width="1" height="29.6" fill="#19c37d"/><rect x="978" y="606.2" width="1" height="53.6" fill="#19c37d"/><rect x="979" y="605.2" width="1" height="54.6" fill="#19c37d"/><rect x="981" y="596.2" width="1" height="63.6" fill="#19c37d"/><rect x="983" y="607.1" width="1" height="52.7" fill="#19c37d"/><rect x="985" y="611.1" width="1" height="48.7" fill="#19c37d"/><rect x="987" y="608.1" width="1" height="51.7" fill="#19c37d"/><rect x="989" y="628.1" width="1" height="31.7" fill="#19c37d"/><rect x="990" y="622.1" width="1" height="37.7" fill="#19c37d"/><rect x="992" y="626.1" width="1" height="33.7" fill="#19c37d"/><rect x="994" y="603.0" width="1" height="56.8" fill="#19c37d"/><rect x="996" y="643.0" width="1" height="16.8" fill="#19c37d"/><rect x="998" y="627.1" width="1" height="32.7" fill="#19c37d"/><rect x="999" y="612.1" width="1" height="47.7" fill="#19c37d"/><rect x="1001" y="591.1" width="1" height="68.7" fill="#19c37d"/><rect x="1003" y="605.0" width="1" height="54.8" fill="#19c37d"/><rect x="1005" y="623.1" width="1" height="36.7" fill="#19c37d"/><rect x="1007" y="623.1" width="1" height="36.7" fill="#19c37d"/><rect x="1008" y="615.0" width="1" height="44.8" fill="#19c37d"/><rect x="1010" y="619.0" width="1" height="40.8" fill="#19c37d"/><rect x="1012" y="635.0" width="1" height="24.8" fill="#19c37d"/><rect x="1014" y="631.1" width="1" height="28.7" fill="#19c37d"/><rect x="1016" y="643.0" width="1" height="16.8" fill="#19c37d"/><rect x="1017" y="651.1" width="1" height="8.7" fill="#19c37d"/><rect x="1019" y="653.1" width="1" height="6.7" fill="#19c37d"/><rect x="1021" y="639.0" width="1" height="20.8" fill="#19c37d"/><rect x="1023" y="641.1" width="1" height="18.7" fill="#19c37d"/><rect x="1025" y="640.0" width="1" height="19.8" fill="#19c37d"/><rect x="1027" y="651.1" width="1" height="8.7" fill="#19c37d"/><rect x="1028" y="659.8" width="1" height="28.8" fill="#ef4455"/><rect x="1030" y="659.8" width="1" height="5.9" fill="#ef4455"/><rect x="1032" y="647.1" width="1" height="12.7" fill="#19c37d"/><rect x="1034" y="642.1" width="1" height="17.7" fill="#19c37d"/><rect x="1036" y="615.0" width="1" height="44.8" fill="#19c37d"/><rect x="1037" y="627.1" width="1" height="32.7" fill="#19c37d"/><rect x="1039" y="625.0" width="1" height="34.8" fill="#19c37d"/><rect x="1041" y="645.0" width="1" height="14.8" fill="#19c37d"/><rect x="1043" y="647.1" width="1" height="12.7" fill="#19c37d"/><rect x="1045" y="638.0" width="1" height="21.8" fill="#19c37d"/><rect x="1046" y="618.1" width="1" height="41.7" fill="#19c37d"/><rect x="1048" y="636.1" width="1" height="23.7" fill="#19c37d"/><rect x="1050" y="654.0" width="1" height="5.8" fill="#19c37d"/><rect x="1052" y="659.8" width="1" height="2.0" fill="#ef4455"/><rect x="1054" y="640.0" width="1" height="19.8" fill="#19c37d"/><rect x="1055" y="659.8" width="1" height="8.0" fill="#ef4455"/><rect x="1057" y="653.1" width="1" height="6.7" fill="#19c37d"/><rect x="1059" y="659.8" width="1" height="19.0" fill="#ef4455"/><rect x="1061" y="659.8" width="1" height="5.9" fill="#ef4455"/><rect x="1063" y="659.8" width="1" height="8.0" fill="#ef4455"/><rect x="1065" y="659.8" width="1" height="10.0" fill="#ef4455"/><rect x="1066" y="659.8" width="1" height="7.0" fill="#ef4455"/><rect x="1068" y="650.0" width="1" height="9.8" fill="#19c37d"/><rect x="1070" y="614.0" width="1" height="45.8" fill="#19c37d"/><rect x="1072" y="631.1" width="1" height="28.7" fill="#19c37d"/><rect x="1074" y="659.8" width="1" height="14.0" fill="#ef4455"/><rect x="1075" y="643.0" width="1" height="16.8" fill="#19c37d"/><rect x="1077" y="610.0" width="1" height="49.8" fill="#19c37d"/><rect x="1079" y="623.1" width="1" height="36.7" fill="#19c37d"/><rect x="1081" y="637.1" width="1" height="22.7" fill="#19c37d"/><rect x="1083" y="644.0" width="1" height="15.8" fill="#19c37d"/><rect x="1084" y="612.1" width="1" height="47.7" fill="#19c37d"/><rect x="1086" y="652.1" width="1" height="7.7" fill="#19c37d"/><rect x="1088" y="612.1" width="1" height="47.7" fill="#19c37d"/><rect x="1090" y="612.1" width="1" height="47.7" fill="#19c37d"/><rect x="1092" y="596.2" width="1" height="63.6" fill="#19c37d"/><rect x="1093" y="607.1" width="1" height="52.7" fill="#19c37d"/><rect x="1095" y="593.0" width="1" height="66.8" fill="#19c37d"/><rect x="1097" y="576.1" width="1" height="83.7" fill="#19c37d"/><rect x="1099" y="556.1" width="1" height="103.7" fill="#19c37d"/><rect x="1101" y="593.0" width="1" height="66.8" fill="#19c37d"/><rect x="1103" y="602.1" width="1" height="57.7" fill="#19c37d"/><rect x="1104" y="597.1" width="1" height="62.7" fill="#19c37d"/><rect x="1106" y="606.2" width="1" height="53.6" fill="#19c37d"/><rect x="1108" y="594.2" width="1" height="65.6" fill="#19c37d"/><rect x="1110" y="601.1" width="1" height="58.7" fill="#19c37d"/><rect x="1112" y="597.1" width="1" height="62.7" fill="#19c37d"/><rect x="1113" y="575.2" width="1" height="84.6" fill="#19c37d"/><rect x="1115" y="602.1" width="1" height="57.7" fill="#19c37d"/><rect x="1117" y="582.1" width="1" height="77.7" fill="#19c37d"/><rect x="1119" y="586.1" width="1" height="73.7" fill="#19c37d"/><rect x="1121" y="596.2" width="1" height="63.6" fill="#19c37d"/><rect x="1122" y="586.1" width="1" height="73.7" fill="#19c37d"/><rect x="1124" y="597.1" width="1" height="62.7" fill="#19c37d"/><rect x="1126" y="609.0" width="1" height="50.8" fill="#19c37d"/><rect x="1128" y="613.0" width="1" height="46.8" fill="#19c37d"/><rect x="1130" y="625.0" width="1" height="34.8" fill="#19c37d"/><rect x="1131" y="641.1" width="1" height="18.7" fill="#19c37d"/><rect x="1133" y="659.8" width="1" height="21.8" fill="#ef4455"/><rect x="1135" y="625.0" width="1" height="34.8" fill="#19c37d"/><rect x="1137" y="605.0" width="1" height="54.8" fill="#19c37d"/><rect x="1139" y="608.1" width="1" height="51.7" fill="#19c37d"/><rect x="1141" y="615.0" width="1" height="44.8" fill="#19c37d"/><rect x="1142" y="600.0" width="1" height="59.8" fill="#19c37d"/><rect x="1144" y="599.0" width="1" height="60.8" fill="#19c37d"/><rect x="1146" y="587.1" width="1" height="72.7" fill="#19c37d"/><rect x="1148" y="591.1" width="1" height="68.7" fill="#19c37d"/><rect x="1150" y="593.0" width="1" height="66.8" fill="#19c37d"/><rect x="1151" y="593.0" width="1" height="66.8" fill="#19c37d"/><rect x="1153" y="596.2" width="1" height="63.6" fill="#19c37d"/><rect x="1155" y="612.1" width="1" height="47.7" fill="#19c37d"/><rect x="1157" y="638.0" width="1" height="21.8" fill="#19c37d"/><rect x="1159" y="653.1" width="1" height="6.7" fill="#19c37d"/><rect x="1160" y="646.1" width="1" height="13.7" fill="#19c37d"/><rect x="1162" y="637.1" width="1" height="22.7" fill="#19c37d"/><rect x="1164" y="611.1" width="1" height="48.7" fill="#19c37d"/><rect x="1166" y="607.1" width="1" height="52.7" fill="#19c37d"/><rect x="1168" y="599.0" width="1" height="60.8" fill="#19c37d"/><rect x="1169" y="564.0" width="1" height="95.8" fill="#19c37d"/><rect x="1171" y="575.2" width="1" height="84.6" fill="#19c37d"/><rect x="1173" y="596.2" width="1" height="63.6" fill="#19c37d"/><rect x="1175" y="602.1" width="1" height="57.7" fill="#19c37d"/><rect x="1177" y="605.0" width="1" height="54.8" fill="#19c37d"/><rect x="1178" y="602.1" width="1" height="57.7" fill="#19c37d"/><rect x="1180" y="617.1" width="1" height="42.7" fill="#19c37d"/><rect x="1182" y="610.0" width="1" height="49.8" fill="#19c37d"/><rect x="1184" y="614.0" width="1" height="45.8" fill="#19c37d"/><rect x="1186" y="556.1" width="1" height="103.7" fill="#19c37d"/><rect x="1188" y="547.8" width="1" height="112.0" fill="#19c37d"/><rect x="1189" y="576.1" width="1" height="83.7" fill="#19c37d"/><rect x="1191" y="624.0" width="1" height="35.8" fill="#19c37d"/><rect x="1193" y="618.1" width="1" height="41.7" fill="#19c37d"/><rect x="1195" y="620.0" width="1" height="39.8" fill="#19c37d"/><rect x="1197" y="612.1" width="1" height="47.7" fill="#19c37d"/><rect x="1198" y="613.0" width="1" height="46.8" fill="#19c37d"/><rect x="1200" y="608.1" width="1" height="51.7" fill="#19c37d"/><rect x="1202" y="611.1" width="1" height="48.7" fill="#19c37d"/><rect x="1204" y="627.1" width="1" height="32.7" fill="#19c37d"/><rect x="1206" y="641.1" width="1" height="18.7" fill="#19c37d"/><rect x="1207" y="622.1" width="1" height="37.7" fill="#19c37d"/><rect x="1209" y="608.1" width="1" height="51.7" fill="#19c37d"/><rect x="1211" y="608.1" width="1" height="51.7" fill="#19c37d"/><rect x="1213" y="640.0" width="1" height="19.8" fill="#19c37d"/><rect x="1215" y="634.0" width="1" height="25.8" fill="#19c37d"/><rect x="1216" y="614.0" width="1" height="45.8" fill="#19c37d"/><rect x="1218" y="629.0" width="1" height="30.8" fill="#19c37d"/><rect x="1220" y="648.1" width="1" height="11.7" fill="#19c37d"/><rect x="1222" y="644.0" width="1" height="15.8" fill="#19c37d"/><rect x="1224" y="630.2" width="1" height="29.6" fill="#19c37d"/><rect x="1226" y="628.1" width="1" height="31.7" fill="#19c37d"/><rect x="1227" y="630.0" width="1" height="29.8" fill="#19c37d"/><rect x="1229" y="613.0" width="1" height="46.8" fill="#19c37d"/><rect x="1231" y="652.1" width="1" height="7.7" fill="#19c37d"/><rect x="1233" y="659.8" width="1" height="8.0" fill="#ef4455"/><rect x="1235" y="659.8" width="1" height="5.0" fill="#ef4455"/><rect x="1236" y="647.1" width="1" height="12.7" fill="#19c37d"/><rect x="1238" y="620.9" width="1" height="38.9" fill="#19c37d"/><rect x="1240" y="637.1" width="1" height="22.7" fill="#19c37d"/><rect x="1242" y="611.1" width="1" height="48.7" fill="#19c37d"/><rect x="1244" y="620.9" width="1" height="38.9" fill="#19c37d"/><rect x="1245" y="592.1" width="1" height="67.7" fill="#19c37d"/><rect x="1247" y="590.2" width="1" height="69.6" fill="#19c37d"/><rect x="1249" y="592.1" width="1" height="67.7" fill="#19c37d"/><rect x="1251" y="618.1" width="1" height="41.7" fill="#19c37d"/><rect x="1253" y="614.0" width="1" height="45.8" fill="#19c37d"/><rect x="1254" y="624.0" width="1" height="35.8" fill="#19c37d"/><rect x="1256" y="637.1" width="1" height="22.7" fill="#19c37d"/><rect x="1258" y="624.0" width="1" height="35.8" fill="#19c37d"/><rect x="1260" y="626.1" width="1" height="33.7" fill="#19c37d"/><rect x="1262" y="652.1" width="1" height="7.7" fill="#19c37d"/><rect x="1264" y="644.0" width="1" height="15.8" fill="#19c37d"/><rect x="1265" y="626.1" width="1" height="33.7" fill="#19c37d"/><rect x="1267" y="622.1" width="1" height="37.7" fill="#19c37d"/><rect x="1269" y="659.8" width="1" height="17.9" fill="#ef4455"/><rect x="1271" y="561.1" width="1" height="98.7" fill="#19c37d"/><rect x="1273" y="637.1" width="1" height="22.7" fill="#19c37d"/><rect x="1274" y="632.1" width="1" height="27.7" fill="#19c37d"/><rect x="1276" y="644.0" width="1" height="15.8" fill="#19c37d"/><rect x="1278" y="628.1" width="1" height="31.7" fill="#19c37d"/><rect x="1280" y="632.1" width="1" height="27.7" fill="#19c37d"/><rect x="1282" y="628.1" width="1" height="31.7" fill="#19c37d"/><rect x="1283" y="639.0" width="1" height="20.8" fill="#19c37d"/><rect x="1285" y="614.0" width="1" height="45.8" fill="#19c37d"/><rect x="1287" y="611.1" width="1" height="48.7" fill="#19c37d"/><rect x="1289" y="615.0" width="1" height="44.8" fill="#19c37d"/><rect x="1291" y="626.1" width="1" height="33.7" fill="#19c37d"/><rect x="1292" y="623.1" width="1" height="36.7" fill="#19c37d"/><rect x="1294" y="606.2" width="1" height="53.6" fill="#19c37d"/><rect x="1296" y="608.1" width="1" height="51.7" fill="#19c37d"/><rect x="1298" y="608.1" width="1" height="51.7" fill="#19c37d"/><rect x="1300" y="620.0" width="1" height="39.8" fill="#19c37d"/><rect x="1302" y="618.1" width="1" height="41.7" fill="#19c37d"/><rect x="1303" y="635.9" width="1" height="23.9" fill="#19c37d"/><rect x="1305" y="636.1" width="1" height="23.7" fill="#19c37d"/><rect x="1307" y="622.1" width="1" height="37.7" fill="#19c37d"/><rect x="1309" y="628.1" width="1" height="31.7" fill="#19c37d"/><rect x="1311" y="628.1" width="1" height="31.7" fill="#19c37d"/><rect x="1312" y="618.1" width="1" height="41.7" fill="#19c37d"/><rect x="1314" y="620.0" width="1" height="39.8" fill="#19c37d"/><rect x="1316" y="624.0" width="1" height="35.8" fill="#19c37d"/><rect x="1318" y="625.0" width="1" height="34.8" fill="#19c37d"/><rect x="1320" y="624.0" width="1" height="35.8" fill="#19c37d"/><rect x="1321" y="627.1" width="1" height="32.7" fill="#19c37d"/><rect x="1323" y="629.0" width="1" height="30.8" fill="#19c37d"/><rect x="1325" y="611.1" width="1" height="48.7" fill="#19c37d"/><rect x="1327" y="620.0" width="1" height="39.8" fill="#19c37d"/><rect x="1329" y="620.0" width="1" height="39.8" fill="#19c37d"/><rect x="1330" y="603.0" width="1" height="56.8" fill="#19c37d"/><rect x="1332" y="625.0" width="1" height="34.8" fill="#19c37d"/><rect x="1334" y="644.0" width="1" height="15.8" fill="#19c37d"/><rect x="1336" y="659.8" width="1" height="15.1" fill="#ef4455"/><rect x="1338" y="659.8" width="1" height="14.0" fill="#ef4455"/><rect x="1340" y="651.1" width="1" height="8.7" fill="#19c37d"/><rect x="1341" y="643.0" width="1" height="16.8" fill="#19c37d"/><rect x="1343" y="659.8" width="1" height="2.0" fill="#ef4455"/><rect x="1345" y="650.0" width="1" height="9.8" fill="#19c37d"/><rect x="1347" y="659.8" width="1" height="5.0" fill="#ef4455"/><rect x="1349" y="650.0" width="1" height="9.8" fill="#19c37d"/><rect x="1350" y="647.1" width="1" height="12.7" fill="#19c37d"/><rect x="1354" y="639.0" width="1" height="20.8" fill="#19c37d"/><rect x="1356" y="641.1" width="1" height="18.7" fill="#19c37d"/><rect x="1358" y="649.0" width="1" height="10.8" fill="#19c37d"/><rect x="1359" y="650.0" width="1" height="9.8" fill="#19c37d"/><rect x="1361" y="638.0" width="1" height="21.8" fill="#19c37d"/><rect x="1363" y="645.0" width="1" height="14.8" fill="#19c37d"/><rect x="1365" y="659.8" width="1" height="4.0" fill="#ef4455"/><rect x="1367" y="648.1" width="1" height="11.7" fill="#19c37d"/><rect x="1368" y="650.0" width="1" height="9.8" fill="#19c37d"/><rect x="1370" y="633.0" width="1" height="26.8" fill="#19c37d"/><rect x="1372" y="647.1" width="1" height="12.7" fill="#19c37d"/><rect x="1374" y="646.1" width="1" height="13.7" fill="#19c37d"/><rect x="1376" y="637.1" width="1" height="22.7" fill="#19c37d"/><rect x="1377" y="644.0" width="1" height="15.8" fill="#19c37d"/><rect x="1379" y="617.1" width="1" height="42.7" fill="#19c37d"/><rect x="1381" y="627.1" width="1" height="32.7" fill="#19c37d"/><rect x="1383" y="608.1" width="1" height="51.7" fill="#19c37d"/><rect x="1385" y="638.0" width="1" height="21.8" fill="#19c37d"/><rect x="1387" y="628.1" width="1" height="31.7" fill="#19c37d"/><rect x="1388" y="619.0" width="1" height="40.8" fill="#19c37d"/><rect x="1390" y="632.1" width="1" height="27.7" fill="#19c37d"/><rect x="1392" y="629.0" width="1" height="30.8" fill="#19c37d"/><rect x="1394" y="631.1" width="1" height="28.7" fill="#19c37d"/><rect x="1396" y="614.0" width="1" height="45.8" fill="#19c37d"/><rect x="1397" y="625.0" width="1" height="34.8" fill="#19c37d"/><rect x="1399" y="617.1" width="1" height="42.7" fill="#19c37d"/><rect x="1401" y="606.2" width="1" height="53.6" fill="#19c37d"/><rect x="1403" y="616.1" width="1" height="43.7" fill="#19c37d"/><rect x="1405" y="608.1" width="1" height="51.7" fill="#19c37d"/><rect x="1406" y="611.1" width="1" height="48.7" fill="#19c37d"/><rect x="1408" y="619.0" width="1" height="40.8" fill="#19c37d"/><rect x="1410" y="631.1" width="1" height="28.7" fill="#19c37d"/><rect x="1412" y="623.1" width="1" height="36.7" fill="#19c37d"/><rect x="1414" y="629.0" width="1" height="30.8" fill="#19c37d"/><rect x="1415" y="635.0" width="1" height="24.8" fill="#19c37d"/><rect x="1417" y="609.0" width="1" height="50.8" fill="#19c37d"/><rect x="1419" y="625.0" width="1" height="34.8" fill="#19c37d"/><rect x="1421" y="631.1" width="1" height="28.7" fill="#19c37d"/><rect x="1423" y="605.0" width="1" height="54.8" fill="#19c37d"/><rect x="1425" y="608.1" width="1" height="51.7" fill="#19c37d"/><rect x="1426" y="615.0" width="1" height="44.8" fill="#19c37d"/><rect x="1428" y="637.1" width="1" height="22.7" fill="#19c37d"/><rect x="1430" y="659.8" width="1" height="5.0" fill="#ef4455"/><rect x="1432" y="659.8" width="1" height="9.1" fill="#ef4455"/><rect x="1434" y="634.0" width="1" height="25.8" fill="#19c37d"/><rect x="1435" y="642.1" width="1" height="17.7" fill="#19c37d"/><rect x="1437" y="643.0" width="1" height="16.8" fill="#19c37d"/><rect x="1439" y="649.0" width="1" height="10.8" fill="#19c37d"/><rect x="1441" y="626.1" width="1" height="33.7" fill="#19c37d"/><rect x="1443" y="613.0" width="1" height="46.8" fill="#19c37d"/><rect x="1444" y="614.0" width="1" height="45.8" fill="#19c37d"/><rect x="1446" y="608.1" width="1" height="51.7" fill="#19c37d"/><rect x="1448" y="602.1" width="1" height="57.7" fill="#19c37d"/><rect x="1450" y="612.1" width="1" height="47.7" fill="#19c37d"/><rect x="1452" y="624.0" width="1" height="35.8" fill="#19c37d"/><rect x="1453" y="620.0" width="1" height="39.8" fill="#19c37d"/><rect x="1455" y="610.0" width="1" height="49.8" fill="#19c37d"/><rect x="1457" y="623.1" width="1" height="36.7" fill="#19c37d"/><rect x="1459" y="647.1" width="1" height="12.7" fill="#19c37d"/><rect x="1461" y="659.8" width="1" height="2.9" fill="#ef4455"/><rect x="1463" y="659.8" width="1" height="47.0" fill="#ef4455"/><rect x="1464" y="659.8" width="1" height="11.0" fill="#ef4455"/><rect x="1466" y="659.8" width="1" height="2.9" fill="#ef4455"/><rect x="1468" y="632.1" width="1" height="27.7" fill="#19c37d"/><rect x="1470" y="645.0" width="1" height="14.8" fill="#19c37d"/><rect x="1472" y="659.8" width="1" height="128.1" fill="#ef4455"/><rect x="1473" y="659.8" width="1" height="20.3" fill="#ef4455"/><rect x="1475" y="659.8" width="1" height="26.9" fill="#ef4455"/><rect x="1477" y="659.8" width="1" height="29.7" fill="#ef4455"/><rect x="1479" y="659.8" width="1" height="20.2" fill="#ef4455"/><rect x="1481" y="659.8" width="1" height="29.7" fill="#ef4455"/><rect x="1482" y="659.8" width="1" height="19.0" fill="#ef4455"/><rect x="1484" y="659.8" width="1" height="11.0" fill="#ef4455"/><rect x="1486" y="659.8" width="1" height="9.1" fill="#ef4455"/><rect x="1488" y="659.8" width="1" height="14.0" fill="#ef4455"/>
</g>
<path d="M98.3,703.5 L100.3,696.7 L102.2,700.1 L103.5,723.4 L104.5,744.9 L106.1,744.9 L107.7,758.4 L109.2,748.3 L111.2,740.2 L113.1,745.2 L115.0,764.6 L117.0,760.4 L119.0,759.5 L120.4,762.3 L122.4,788.4 L124.8,782.5 L126.3,781.3 L127.9,782.8 L129.4,757.6 L131.0,754.2 L133.0,754.2 L134.6,738.7 L136.4,742.1 L138.8,748.0 L140.8,740.9 L142.3,740.2 L144.2,742.9 L145.8,747.5 L147.6,747.1 L149.7,741.3 L151.2,728.1 L152.8,716.4 L154.8,691.5 L157.0,684.5 L158.5,678.3 L160.1,661.2 L160.7,660.5 L162.6,658.5 L163.8,641.1 L165.7,638.0 L167.6,636.7 L169.4,641.1 L170.7,638.0 L172.5,639.2 L175.0,635.5 L176.9,638.6 L178.8,645.4 L180.6,651.0 L182.5,643.6 L184.3,640.5 L185.6,623.7 L186.8,598.8 L188.1,573.9 L188.5,550.0 L189.1,549.0 L190.4,547.5 L192.9,537.5 L194.8,540.0 L196.0,532.5 L197.0,515.0 L198.5,488.1 L200.0,525.6 L201.6,506.2 L203.5,496.2 L205.8,487.5 L207.9,486.2 L209.5,481.2 L210.8,458.8 L212.5,462.5 L214.8,450.6 L216.6,462.5 L218.2,476.2 L219.8,512.5 L221.6,486.9 L223.5,491.2 L225.4,541.2 L227.2,491.2 L228.8,507.5 L231.0,525.0 L232.9,523.8 L234.8,493.8 L236.6,475.0 L238.5,474.4 L239.8,478.1 L241.6,468.8 L243.5,476.2 L245.0,476.9 L247.2,464.4 L249.1,476.2 L251.0,511.2 L252.5,507.5 L254.5,486.9 L256.0,490.6 L257.9,483.1 L260.0,479.4 L261.9,461.2 L263.5,480.0 L265.4,469.4 L267.2,473.8 L269.1,497.5 L271.0,523.1 L272.5,509.4 L274.5,528.1 L276.2,525.6 L277.9,547.5 L279.5,528.1 L281.0,525.0 L283.5,515.6 L285.4,515.0 L287.2,500.0 L289.1,503.8 L291.0,521.2 L292.5,520.0 L294.8,526.9 L296.6,528.9 L297.9,530.8 L299.5,525.1 L300.8,537.0 L301.6,555.0 L303.2,573.1 L304.8,567.5 L306.0,548.8 L306.6,533.2 L308.5,524.5 L310.4,523.2 L312.2,529.5 L314.8,540.8 L316.0,547.5 L317.9,531.4 L319.8,551.2 L321.6,550.6 L323.5,542.5 L325.0,532.6 L326.6,544.5 L327.2,524.5 L328.8,505.1 L330.4,512.0 L332.2,498.2 L334.1,498.9 L336.0,504.5 L336.6,487.0 L337.6,463.2 L339.1,470.8 L341.0,480.8 L342.9,490.8 L345.4,482.6 L347.0,480.1 L348.5,485.1 L350.4,479.5 L352.2,487.0 L353.8,493.2 L355.8,487.6 L357.5,493.9 L359.1,492.6 L361.0,492.0 L362.9,482.0 L364.5,470.1 L366.6,465.5 L368.5,468.2 L370.6,478.9 L372.5,479.5 L374.5,477.0 L376.0,478.2 L377.9,495.1 L379.1,488.2 L381.0,499.5 L382.9,506.4 L385.0,504.5 L387.0,501.4 L388.5,503.2 L390.4,513.2 L392.9,515.8 L395.4,522.0 L397.2,522.0 L399.1,529.5 L399.8,542.5 L400.8,555.6 L402.2,542.5 L404.1,549.4 L406.0,544.4 L407.9,555.0 L409.8,548.8 L411.6,534.5 L413.5,533.2 L415.4,539.5 L416.6,552.5 L418.2,573.8 L419.1,586.2 L421.0,590.0 L422.5,575.6 L424.5,597.5 L426.6,585.0 L428.2,577.5 L431.6,583.1 L433.5,577.5 L435.4,566.2 L437.2,552.5 L438.0,541.2 L438.5,517.0 L440.8,514.5 L442.9,523.2 L444.4,523.2 L446.0,500.8 L447.9,495.8 L450.0,488.9 L451.6,493.2 L453.8,507.0 L455.4,511.4 L457.2,508.2 L458.8,490.8 L460.8,490.1 L462.5,488.2 L464.8,500.8 L466.6,507.0 L468.2,517.6 L469.8,512.0 L471.0,529.5 L472.2,547.0 L473.5,552.5 L475.0,571.2 L476.0,587.5 L477.0,616.2 L478.5,596.9 L480.4,605.0 L481.2,573.8 L482.5,543.2 L484.1,550.6 L486.0,551.2 L487.9,570.0 L489.5,563.8 L491.2,553.8 L492.9,566.2 L494.8,580.6 L496.9,568.8 L498.8,563.8 L500.6,573.1 L502.2,564.4 L504.0,568.1 L505.6,548.8 L507.5,555.0 L509.4,522.5 L511.2,521.9 L513.1,521.5 L515.0,533.1 L516.9,563.8 L518.5,567.5 L520.2,565.0 L522.2,566.9 L524.0,568.8 L525.9,583.8 L527.5,566.9 L529.4,582.5 L531.0,578.5 L532.8,592.5 L534.4,608.8 L535.2,616.9 L536.9,614.4 L538.8,602.5 L540.2,586.2 L541.9,581.2 L543.8,583.8 L545.6,576.9 L547.5,554.4 L549.4,559.4 L551.2,567.5 L552.9,575.6 L554.4,557.5 L556.2,543.8 L558.1,532.5 L560.0,530.0 L562.5,527.5 L564.4,528.8 L565.6,529.4 L567.2,521.9 L569.0,530.6 L570.6,513.8 L572.5,508.8 L574.4,507.2 L576.2,508.8 L577.5,520.0 L579.0,535.0 L580.2,550.0 L581.9,553.1 L583.5,551.9 L585.2,540.6 L587.2,539.4 L589.4,533.8 L591.0,539.4 L592.8,540.6 L594.4,553.1 L596.2,556.2 L597.8,536.9 L599.8,530.6 L601.9,533.1 L603.1,515.0 L603.8,503.8 L605.2,497.5 L606.9,493.8 L608.5,493.8 L610.2,487.5 L612.2,485.6 L614.4,482.5 L616.0,495.0 L617.8,495.6 L619.8,501.2 L621.9,489.4 L623.8,501.2 L625.6,497.5 L627.5,487.5 L629.0,470.0 L630.6,453.8 L632.2,455.0 L633.8,465.0 L635.0,473.8 L636.9,478.1 L638.5,480.0 L640.0,485.0 L641.9,491.2 L643.5,480.0 L644.4,450.0 L645.2,431.2 L647.5,427.5 L649.4,424.4 L650.6,423.1 L651.9,412.5 L652.5,377.5 L653.1,358.8 L654.0,343.8 L655.6,348.1 L657.5,333.1 L659.8,352.5 L661.5,329.4 L663.8,333.1 L665.6,336.9 L667.5,327.0 L669.0,318.8 L670.6,307.5 L672.2,286.2 L674.0,283.8 L675.6,290.0 L677.5,289.8 L679.0,307.5 L680.0,319.4 L681.5,323.5 L682.8,301.2 L684.8,301.9 L686.5,292.5 L688.5,297.2 L690.2,293.8 L692.2,301.2 L694.4,300.6 L696.0,285.6 L697.5,294.4 L699.4,279.4 L701.2,278.1 L703.1,271.2 L704.8,292.5 L706.9,296.2 L708.5,271.9 L710.2,276.9 L712.2,270.6 L714.0,270.0 L715.6,256.2 L717.2,245.6 L719.4,245.4 L720.2,262.5 L721.2,277.5 L722.8,291.9 L724.4,290.6 L726.2,293.1 L728.1,305.0 L730.0,307.5 L731.9,285.6 L733.8,281.9 L735.2,296.2 L737.2,310.6 L739.0,305.0 L741.0,314.4 L743.1,320.0 L745.0,315.0 L746.5,308.8 L748.1,296.2 L750.0,288.8 L753.1,286.9 L754.4,276.2 L755.6,265.6 L756.9,281.2 L757.8,296.2 L759.4,308.1 L761.0,319.4 L762.5,308.1 L765.0,309.0 L768.1,308.8 L770.0,296.9 L771.9,275.6 L773.5,276.9 L775.2,255.6 L777.2,254.8 L779.0,271.2 L780.6,266.2 L781.9,252.5 L782.8,245.4 L784.4,258.1 L786.2,256.9 L787.8,252.2 L790.0,252.2 L791.5,262.5 L793.1,266.2 L795.2,270.0 L796.9,258.8 L798.8,252.2 L800.6,263.1 L802.5,275.0 L804.4,290.6 L806.0,270.0 L807.8,290.0 L809.4,296.9 L811.9,297.2 L814.4,297.5 L816.9,297.2 L818.8,292.5 L820.6,301.2 L822.5,290.4 L824.4,296.0 L826.2,292.2 L828.1,291.9 L829.8,298.5 L831.5,301.2 L833.1,302.2 L835.0,296.2 L836.9,287.5 L838.8,299.4 L840.6,297.5 L842.5,298.5 L843.5,310.0 L844.4,327.0 L846.0,345.0 L847.5,371.2 L849.4,369.4 L851.2,370.0 L853.1,360.0 L854.0,338.8 L855.0,310.6 L856.2,332.5 L856.9,359.4 L858.8,351.2 L860.6,332.5 L862.5,336.2 L864.0,355.0 L866.0,358.1 L867.2,376.2 L868.1,395.0 L869.8,409.4 L871.2,380.0 L873.1,376.9 L875.0,392.5 L876.9,373.1 L878.5,371.5 L880.6,383.1 L882.2,373.1 L884.0,381.2 L885.6,355.6 L887.5,372.5 L889.4,373.8 L891.2,374.4 L893.1,361.2 L894.8,351.2 L896.5,351.9 L898.5,354.0 L900.0,353.5 L901.9,371.2 L903.8,383.1 L906.0,384.8 L907.5,383.1 L909.4,366.5 L911.0,383.5 L913.1,378.1 L915.0,375.0 L916.5,376.9 L917.8,393.8 L919.0,411.9 L920.0,406.9 L921.9,426.9 L923.8,383.5 L925.6,403.8 L927.2,380.0 L929.0,365.6 L930.6,375.0 L932.2,370.6 L934.4,376.2 L936.2,373.1 L938.1,368.1 L940.0,370.6 L941.9,367.5 L943.8,366.2 L945.0,357.5 L946.0,338.8 L947.2,320.0 L949.4,313.1 L951.2,311.2 L953.1,307.5 L954.8,308.1 L956.5,313.1 L958.1,306.2 L960.0,310.0 L961.9,310.6 L963.5,297.5 L965.6,295.6 L967.2,302.5 L969.0,309.4 L970.6,307.5 L972.5,296.2 L974.4,293.8 L975.2,272.5 L976.2,260.6 L978.1,261.0 L980.0,252.5 L981.9,256.9 L983.8,262.2 L985.6,256.2 L987.5,258.1 L989.4,257.5 L991.2,259.4 L992.5,260.6 L994.0,243.8 L996.0,246.9 L997.8,241.2 L999.4,228.8 L1001.5,217.8 L1003.5,239.4 L1005.2,236.9 L1007.2,230.0 L1009.0,228.5 L1011.0,231.2 L1012.5,236.2 L1014.4,247.5 L1016.0,256.2 L1017.5,254.4 L1019.4,248.1 L1021.2,246.5 L1023.5,248.8 L1025.6,253.1 L1026.9,269.4 L1028.5,253.8 L1030.2,248.1 L1032.2,246.9 L1033.8,224.4 L1036.0,224.4 L1037.8,232.5 L1039.8,246.9 L1041.5,246.2 L1043.5,248.8 L1045.2,247.5 L1046.9,241.9 L1048.5,252.5 L1050.2,251.9 L1052.2,252.5 L1054.0,258.8 L1056.0,266.2 L1057.8,272.5 L1059.4,248.8 L1061.2,243.8 L1062.8,239.0 L1065.0,240.2 L1067.5,239.4 L1069.0,236.9 L1070.6,234.4 L1072.2,240.0 L1074.0,247.5 L1075.6,231.9 L1077.5,228.1 L1079.4,235.6 L1081.2,234.4 L1082.8,230.0 L1084.8,234.4 L1086.5,231.2 L1088.1,221.2 L1089.4,210.0 L1090.0,196.2 L1091.5,190.0 L1093.8,188.8 L1095.6,182.5 L1097.5,178.8 L1099.4,187.5 L1101.2,183.8 L1103.1,181.2 L1105.0,186.9 L1106.9,188.1 L1108.8,190.0 L1110.2,189.8 L1111.9,177.5 L1113.8,183.1 L1115.6,185.6 L1117.5,188.5 L1119.4,187.5 L1121.0,180.6 L1122.8,186.2 L1124.8,187.2 L1126.5,187.8 L1128.1,195.0 L1130.0,208.8 L1131.9,213.1 L1133.8,203.8 L1135.6,201.2 L1137.5,205.0 L1139.0,200.0 L1141.0,189.4 L1142.8,193.8 L1144.4,193.8 L1146.2,181.2 L1148.1,183.1 L1150.0,177.5 L1151.9,162.5 L1153.5,185.0 L1155.2,189.4 L1157.5,189.4 L1159.4,189.8 L1161.0,195.0 L1162.8,211.2 L1164.4,205.0 L1166.0,213.1 L1167.8,192.5 L1169.8,198.8 L1171.5,206.2 L1173.5,224.4 L1175.2,216.5 L1177.2,218.8 L1179.0,213.1 L1180.6,233.1 L1182.5,231.9 L1184.4,233.8 L1186.0,227.5 L1187.8,219.4 L1189.8,216.9 L1191.5,221.2 L1193.5,222.5 L1195.2,224.4 L1196.9,220.0 L1198.8,215.6 L1200.6,217.5 L1202.2,205.0 L1204.0,198.1 L1206.0,195.6 L1207.5,196.2 L1209.4,198.1 L1211.2,199.4 L1213.1,193.1 L1215.0,193.8 L1216.9,191.2 L1218.8,197.5 L1220.6,198.1 L1222.2,200.0 L1224.0,211.9 L1226.0,215.6 L1227.8,209.4 L1229.8,230.0 L1231.5,226.9 L1233.5,226.2 L1235.0,215.0 L1236.9,204.4 L1238.5,205.0 L1240.2,183.8 L1242.2,173.8 L1244.0,167.5 L1246.0,166.2 L1247.8,161.2 L1249.6,156.9 L1251.2,171.2 L1253.1,162.5 L1255.0,170.0 L1256.2,193.8 L1256.9,211.2 L1258.5,221.2 L1260.2,200.6 L1262.2,200.6 L1263.8,208.8 L1265.6,221.2 L1267.2,233.1 L1269.0,241.9 L1271.0,239.4 L1272.8,233.1 L1274.8,222.8 L1276.5,233.8 L1278.5,237.2 L1280.0,225.0 L1281.9,220.6 L1283.8,216.9 L1285.6,203.5 L1287.5,206.2 L1289.4,211.2 L1291.0,222.5 L1292.8,233.8 L1294.4,226.9 L1296.2,225.0 L1298.1,223.1 L1299.8,236.2 L1301.0,251.2 L1301.9,269.4 L1303.5,257.5 L1305.2,270.2 L1307.2,260.6 L1309.0,265.0 L1310.6,255.0 L1312.8,246.2 L1314.4,260.0 L1316.2,267.5 L1318.1,278.8 L1319.4,295.0 L1320.0,307.2 L1321.9,303.5 L1323.5,309.4 L1325.2,323.1 L1327.2,318.8 L1329.0,327.5 L1330.6,357.5 L1332.5,367.5 L1334.4,368.8 L1336.2,355.0 L1338.1,345.6 L1340.0,352.5 L1341.5,333.1 L1343.5,328.5 L1345.6,330.0 L1347.5,331.2 L1349.0,333.8 L1350.6,358.5 L1352.5,326.2 L1354.4,315.6 L1356.2,325.0 L1358.1,340.0 L1360.0,340.2 L1361.9,333.8 L1363.5,331.9 L1365.0,319.8 L1367.2,323.5 L1369.0,320.6 L1370.6,334.4 L1372.5,335.0 L1374.4,347.5 L1376.0,358.5 L1378.1,349.4 L1380.0,360.0 L1381.9,364.4 L1383.5,348.1 L1385.6,345.6 L1387.5,344.4 L1389.0,345.0 L1390.6,351.0 L1392.5,351.2 L1394.8,353.5 L1396.9,351.2 L1398.8,349.0 L1400.0,350.0 L1401.5,353.5 L1403.1,346.2 L1405.0,351.2 L1406.9,343.8 L1408.8,336.2 L1410.6,331.2 L1412.2,326.9 L1414.0,313.1 L1416.0,314.4 L1417.8,327.5 L1420.0,330.6 L1422.2,333.5 L1424.4,331.9 L1426.9,328.8 L1428.5,306.2 L1430.2,295.2 L1431.9,302.5 L1433.8,303.5 L1436.0,305.6 L1437.5,312.5 L1439.4,320.0 L1441.0,346.9 L1443.1,340.0 L1445.0,338.5 L1446.9,338.1 L1448.5,341.2 L1450.2,357.5 L1451.9,346.9 L1453.5,341.2 L1455.6,341.0 L1456.9,352.5 L1457.8,370.0 L1459.4,373.1 L1460.2,390.0 L1461.0,402.0 L1462.8,421.7 L1464.7,410.8 L1465.8,421.7 L1467.5,436.7 L1468.7,450.0 L1469.7,478.3 L1470.3,533.3 L1471.3,485.0 L1472.0,470.8 L1473.7,480.0 L1475.3,472.5 L1477.5,473.3 L1480.0,488.3 L1483.0,504.2 L1485.3,485.0 L1488.3,470.8" fill="none" stroke="#e6e6ea" stroke-width="1.05" stroke-linejoin="round"/>
<rect x="89" y="125" width="2" height="695" fill="#ef4455"/>
<rect x="1498" y="125" width="2" height="695" fill="#ffffff"/>
<line x1="98" x2="1491" y1="820.5" y2="820.5" stroke="#4a4a54" stroke-width="1"/>
<line x1="249.5" x2="249.5" y1="821" y2="830" stroke="#3a3a42" stroke-width="1"/>
<text class="xl" x="249.0" y="850">2024 Apr</text>
<line x1="413.5" x2="413.5" y1="821" y2="830" stroke="#3a3a42" stroke-width="1"/>
<text class="xl" x="413.0" y="850">2024 Jul</text>
<line x1="580.5" x2="580.5" y1="821" y2="830" stroke="#3a3a42" stroke-width="1"/>
<text class="xl" x="580.0" y="850">2024 Oct</text>
<line x1="746.5" x2="746.5" y1="821" y2="830" stroke="#3a3a42" stroke-width="1"/>
<text class="xl" x="746.0" y="850">2025 Jan</text>
<line x1="909.5" x2="909.5" y1="821" y2="830" stroke="#3a3a42" stroke-width="1"/>
<text class="xl" x="909.0" y="850">2025 Apr</text>
<line x1="1074.5" x2="1074.5" y1="821" y2="830" stroke="#3a3a42" stroke-width="1"/>
<text class="xl" x="1074.0" y="850">2025 Jul</text>
<line x1="1240.5" x2="1240.5" y1="821" y2="830" stroke="#3a3a42" stroke-width="1"/>
<text class="xl" x="1240.0" y="850">2025 Oct</text>
<line x1="1406.5" x2="1406.5" y1="821" y2="830" stroke="#3a3a42" stroke-width="1"/>
<text class="xl" x="1406.0" y="850">2026 Jan</text>
<text class="yl" x="75.6" y="787.1">-0.02</text>
<text class="yl" x="75.6" y="725.9">-0.01</text>
<text class="yl" x="75.6" y="603.5">0.01</text>
<text class="yl" x="75.6" y="542.3">0.02</text>
<text class="yl" x="75.6" y="481.1">0.03</text>
<text class="yl" x="75.6" y="419.9">0.04</text>
<text class="yl" x="75.6" y="358.7">0.05</text>
<text class="yl" x="75.6" y="297.5">0.06</text>
<text class="yl" x="75.6" y="236.3">0.07</text>
<text class="yl" x="75.6" y="175.1">0.08</text>
<text class="yl" x="76" y="664.5">0</text>
<rect x="60" y="653" width="30" height="37" fill="#ef4455"/>
<text x="75" y="679" font-size="20" fill="#ffffff" text-anchor="middle">0*</text>
<text class="yr" x="1514" y="137.8">$130K</text>
<text class="yr" x="1514" y="181.8">$120K</text>
<text class="yr" x="1514" y="229.8">$110K</text>
<text class="yr" x="1514" y="282.8">$100K</text>
<text class="yr" x="1514" y="340.8">$90K</text>
<text class="yr" x="1514" y="404.8">$80K</text>
<text class="yr" x="1514" y="563.8">$60K</text>
<text class="yr" x="1514" y="663.8">$50K</text>
<text class="yr" x="1514" y="786.8">$40K</text>
<rect x="1500" y="448.8" width="70" height="38" fill="#f5f5fb"/>
<text x="1534" y="475.5" font-size="18.7" fill="#1a1a1f" text-anchor="middle">$70.4K</text>
<text x="1360.3" y="877.8" font-size="14.5" fill="#94949b" textLength="200" lengthAdjust="spacingAndGlyphs">© CryptoQuant. All rights reserved</text>
</svg></body></html>
